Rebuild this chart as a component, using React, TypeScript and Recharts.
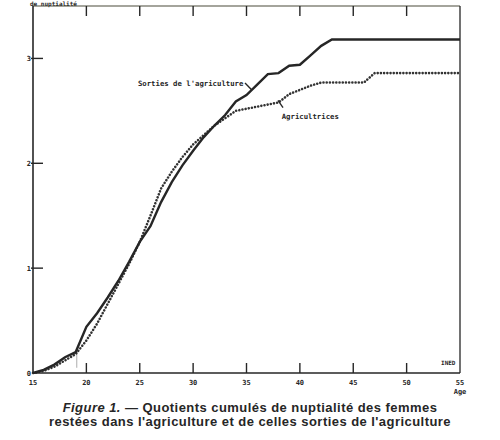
import React from "react";
import { LineChart, Line, XAxis, YAxis, ReferenceLine, ReferenceDot } from "recharts";

const ages = [15,16,17,18,19,20,21,22,23,24,25,26,27,28,29,30,31,32,33,34,35,36,37,38,39,40,41,42,43,44,45,46,47,48,49,50,51,52,53,54,55];
const sorties = [0,0.03,0.08,0.15,0.2,0.44,0.57,0.72,0.88,1.06,1.25,1.4,1.63,1.82,1.98,2.12,2.25,2.36,2.46,2.59,2.65,2.75,2.85,2.86,2.93,2.94,3.03,3.12,3.18,3.18,3.18,3.18,3.18,3.18,3.18,3.18,3.18,3.18,3.18,3.18,3.18];
const agricultrices = [0,0.02,0.06,0.12,0.18,0.31,0.47,0.66,0.85,1.04,1.25,1.5,1.76,1.92,2.06,2.18,2.27,2.36,2.43,2.5,2.52,2.54,2.56,2.58,2.66,2.7,2.74,2.77,2.77,2.77,2.77,2.77,2.86,2.86,2.86,2.86,2.86,2.86,2.86,2.86,2.86];
const xTicks = [15,20,25,30,35,40,45,50,55];
const yTicks = [0,1,2,3];

const data = ages.map((a, i) => ({ age: a, sorties: sorties[i], agri: agricultrices[i] }));

const INK = "#262626";
const MONO = "'DejaVu Sans Mono', monospace";

const BottomTick = (p: any) => {
  const { x, y, payload } = p;
  const v = payload.value;
  return (
    <g>
      {v > 15 && v < 55 && <line x1={x} x2={x} y1={y} y2={y - 10} stroke={INK} strokeWidth={1.4} />}
      <text x={x} y={y + 12} textAnchor="middle" fontFamily={MONO} fontWeight="bold" fontSize={7} fill={INK}>{v}</text>
      {v === 55 && <text x={x} y={y + 21} textAnchor="middle" fontFamily={MONO} fontWeight="bold" fontSize={7} fill={INK}>Age</text>}
    </g>
  );
};

const TopTick = (p: any) => {
  const { x, y, payload } = p;
  const v = payload.value;
  if (v <= 15 || v >= 55) return <g />;
  return <line x1={x} x2={x} y1={y} y2={y + 10} stroke={INK} strokeWidth={1.4} />;
};

const LeftTick = (p: any) => {
  const { x, y, payload } = p;
  const v = payload.value;
  return (
    <g>
      {v > 0 && <line x1={x - 2} x2={x + 10} y1={y} y2={y} stroke={INK} strokeWidth={1.4} />}
      <text x={x - 2} y={y + 2.5} textAnchor="end" fontFamily={MONO} fontWeight="bold" fontSize={7} fill={INK}>{v}</text>
    </g>
  );
};

const RightTick = (p: any) => {
  const { x, y, payload } = p;
  const v = payload.value;
  if (v !== 3) return <g />;
  return <line x1={x - 10} x2={x} y1={y} y2={y} stroke={INK} strokeWidth={1.2} />;
};

export default function App() {
  return (
    <div style={{ position: "absolute", left: 0, top: 0, width: 500, height: 440, background: "#fff" }}>
      <div style={{ position: "absolute", left: 30, top: 0, fontFamily: MONO, fontWeight: "bold", fontSize: 6, lineHeight: "8px", color: INK, whiteSpace: "nowrap" }}>de nuptialité</div>
      <LineChart width={500} height={440} data={data} margin={{ top: 5, left: 32, right: 39, bottom: 66 }}>
        <XAxis dataKey="age" type="number" domain={[15, 55]} ticks={xTicks} interval={0} height={1} tickSize={0} tickMargin={0} tick={BottomTick} tickLine={false} axisLine={{ stroke: INK, strokeWidth: 1.6 }} />
        <XAxis xAxisId="top" orientation="top" dataKey="age" type="number" domain={[15, 55]} ticks={xTicks} interval={0} height={1} tickSize={0} tickMargin={0} tick={TopTick} tickLine={false} axisLine={{ stroke: "#4a4a3a", strokeWidth: 1.2 }} />
        <YAxis type="number" domain={[0, 3.5]} ticks={yTicks} interval={0} width={1} tickSize={0} tickMargin={0} tick={LeftTick} tickLine={false} axisLine={{ stroke: INK, strokeWidth: 1.6 }} />
        <YAxis yAxisId="right" orientation="right" type="number" domain={[0, 3.5]} ticks={yTicks} interval={0} width={1} tickSize={0} tickMargin={0} tick={RightTick} tickLine={false} axisLine={{ stroke: INK, strokeWidth: 1.3 }} />
        <ReferenceLine segment={[{ x: 19.1, y: 0.05 }, { x: 19.1, y: 0.22 }]} stroke="#888" strokeWidth={0.7} />
        <Line dataKey="agri" type="linear" stroke="#333" strokeWidth={2.6} strokeDasharray="0.01 3.2" strokeLinecap="round" dot={false} isAnimationActive={false} />
        <Line dataKey="sorties" type="linear" stroke={INK} strokeWidth={2.4} dot={false} isAnimationActive={false} />
        <ReferenceLine segment={[{ x: 34.86, y: 2.765 }, { x: 35.5, y: 2.7 }]} stroke={INK} strokeWidth={1.4} />
        <ReferenceLine segment={[{ x: 37.95, y: 2.6 }, { x: 38.42, y: 2.53 }]} stroke={INK} strokeWidth={1.4} />
        <ReferenceDot x={34.8} y={2.765} r={0} stroke="none" fill="none" label={{ value: "Sorties de l'agriculture", position: "left", offset: 1, fontFamily: MONO, fontWeight: "bold", fontSize: 7.3, fill: INK }} />
        <ReferenceDot x={38.3} y={2.45} r={0} stroke="none" fill="none" label={{ value: "Agricultrices", position: "right", offset: 0, fontFamily: MONO, fontWeight: "bold", fontSize: 7.3, fill: INK }} />
        <ReferenceDot x={53.9} y={0.1} r={0} stroke="none" fill="none" label={{ value: "INED", position: "center", fontFamily: MONO, fontWeight: "bold", fontSize: 6, fill: INK }} />
      </LineChart>
      <div style={{ position: "absolute", left: 0, top: 401, width: 500, textAlign: "center", fontFamily: "'Liberation Sans', Arial, sans-serif", fontWeight: "bold", fontSize: 13, letterSpacing: 0.45, lineHeight: "14px", color: INK }}>
        <div><i>Figure 1.</i> — Quotients cumulés de nuptialité des femmes</div>
        <div>restées dans l'agriculture et de celles sorties de l'agriculture</div>
      </div>
    </div>
  );
}
